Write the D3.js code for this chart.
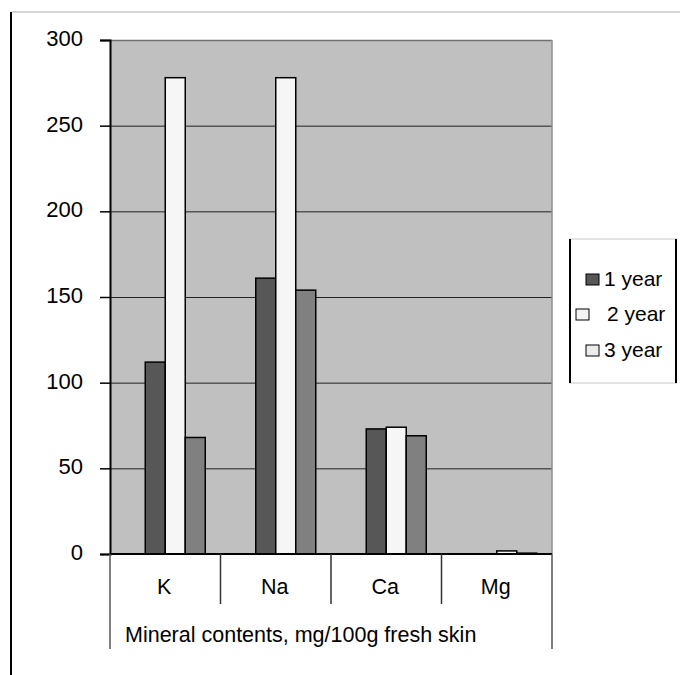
<!DOCTYPE html>
<html>
<head>
<meta charset="utf-8">
<script src="https://cdn.jsdelivr.net/npm/d3@7"></script>
<style>
  body { margin: 0; background: #fff; }
  text { font-family: "Liberation Sans", Arial, sans-serif; fill: #000; }
</style>
</head>
<body>
<script>
// Data
const minerals = ["K", "Na", "Ca", "Mg"];
const seriesNames = ["1 year", "2 year", "3 year"];
const year1 = [112, 161, 73, 0];
const year2 = [278, 278, 74, 1.8];
const year3 = [68, 154, 69, 0.5];
const yTicks = [0, 50, 100, 150, 200, 250, 300];
const axisTitle = "Mineral contents, mg/100g fresh skin";

const seriesValues = [year1, year2, year3];
const barColors = ["#575757", "#f6f6f6", "#808080"];
const legendColors = ["#575757", "#f4f4f4", "#ececec"];

// Width and Height
const w = 680;
const h = 675;
const plot = { left: 110, right: 552, top: 40, bottom: 554 };

const svg = d3.select("body")
              .append("svg")
              .attr("width", w)
              .attr("height", h);

// outer frame
svg.append("line").attr("x1", 11).attr("x2", 680).attr("y1", 12).attr("y2", 12)
   .attr("stroke", "#c8c8c8").attr("stroke-width", 1.5);
svg.append("line").attr("x1", 11).attr("x2", 11).attr("y1", 12).attr("y2", 675)
   .attr("stroke", "#000").attr("stroke-width", 2);

// Scales
const x0 = d3.scaleBand()
             .domain(minerals)
             .range([plot.left, plot.right])
             .padding(0);

// 4 slots per category, first one empty (as in the original)
const slotW = 20;
const x1 = d3.scaleBand()
             .domain([0, 1, 2, 3])
             .range([(x0.bandwidth() - 4 * slotW) / 2, (x0.bandwidth() + 4 * slotW) / 2]);

const y = d3.scaleLinear()
            .domain([0, 300])
            .range([plot.bottom, plot.top]);

// plot background
svg.append("rect")
   .attr("x", plot.left).attr("y", plot.top)
   .attr("width", plot.right - plot.left).attr("height", plot.bottom - plot.top)
   .attr("fill", "#c0c0c0");

// gridlines
svg.append("g")
   .selectAll("line")
   .data(yTicks.filter(d => d > 0 && d < 300))
   .enter()
   .append("line")
   .attr("x1", plot.left).attr("x2", plot.right)
   .attr("y1", d => y(d) + 0.5).attr("y2", d => y(d) + 0.5)
   .attr("stroke", "#222");

// plot border top + right
svg.append("line").attr("x1", plot.left).attr("x2", plot.right)
   .attr("y1", plot.top + 0.5).attr("y2", plot.top + 0.5)
   .attr("stroke", "#707070").attr("stroke-width", 1.5);
svg.append("line").attr("x1", plot.right).attr("x2", plot.right)
   .attr("y1", plot.top).attr("y2", plot.bottom)
   .attr("stroke", "#909090").attr("stroke-width", 1.5);

// bars
const groups = svg.append("g")
   .selectAll("g")
   .data(minerals)
   .enter()
   .append("g")
   .attr("transform", d => "translate(" + x0(d) + ",0)");

groups.selectAll("rect")
   .data((d, i) => seriesValues.map((s, j) => ({ series: j, value: s[i] })))
   .enter()
   .append("rect")
   .filter(d => d.value > 0)
   .attr("x", d => x1(d.series + 1))
   .attr("width", x1.bandwidth())
   .attr("y", d => y(d.value))
   .attr("height", d => y(0) - y(d.value))
   .attr("fill", d => barColors[d.series])
   .attr("stroke", "#000")
   .attr("stroke-width", 1.5);

// y axis
const yAxis = d3.axisLeft(y)
                .tickValues(yTicks)
                .tickSize(10)
                .tickPadding(17);
const ya = svg.append("g")
   .attr("transform", "translate(" + plot.left + ",0)")
   .call(yAxis);
ya.select(".domain").attr("stroke", "#000").attr("stroke-width", 2);
ya.selectAll(".tick line").attr("stroke", "#000").attr("stroke-width", 1.5);
ya.selectAll("text")
  .style("font-size", "22px")
  .style("font-family", "'Liberation Sans', Arial, sans-serif")
  .attr("dy", "0.25em");

// zero line
svg.append("line").attr("x1", plot.left).attr("x2", plot.right)
   .attr("y1", plot.bottom).attr("y2", plot.bottom)
   .attr("stroke", "#000").attr("stroke-width", 2);

// category axis box
const catTickBottom = 604;
const catOuterBottom = 649;
svg.append("g")
   .selectAll("line")
   .data(minerals.slice(1))
   .enter()
   .append("line")
   .attr("x1", d => x0(d)).attr("x2", d => x0(d))
   .attr("y1", plot.bottom).attr("y2", catTickBottom)
   .attr("stroke", "#333").attr("stroke-width", 1.5);
[plot.left, plot.right].forEach(xx => {
  svg.append("line").attr("x1", xx).attr("x2", xx)
     .attr("y1", plot.bottom).attr("y2", catOuterBottom)
     .attr("stroke", "#555").attr("stroke-width", 1.5);
});

svg.append("g")
   .selectAll("text")
   .data(minerals)
   .enter()
   .append("text")
   .attr("x", d => x0(d) + x0.bandwidth() / 2 - 1)
   .attr("y", 594)
   .attr("text-anchor", "middle")
   .style("font-size", "21.5px")
   .text(d => d);

svg.append("text")
   .attr("x", 125)
   .attr("y", 642)
   .style("font-size", "21.5px")
   .text(axisTitle);

// legend
const lg = svg.append("g");
lg.append("line").attr("x1", 569).attr("x2", 677).attr("y1", 239).attr("y2", 239)
  .attr("stroke", "#c8c8c8");
lg.append("line").attr("x1", 569).attr("x2", 677).attr("y1", 383).attr("y2", 383)
  .attr("stroke", "#c8c8c8");
lg.append("line").attr("x1", 570).attr("x2", 570).attr("y1", 239).attr("y2", 383)
  .attr("stroke", "#000").attr("stroke-width", 2);
lg.append("line").attr("x1", 676).attr("x2", 676).attr("y1", 239).attr("y2", 383)
  .attr("stroke", "#000").attr("stroke-width", 2);

const legendY = [279, 314, 350];
const swatchX = [586, 576, 586];
const labelX = [604, 607, 604];
seriesNames.forEach((name, i) => {
  lg.append("rect")
    .attr("x", swatchX[i]).attr("y", legendY[i] - 5)
    .attr("width", 13).attr("height", 11)
    .attr("fill", legendColors[i])
    .attr("stroke", "#000").attr("stroke-width", 1);
  lg.append("text")
    .attr("x", labelX[i])
    .attr("y", legendY[i] + 7)
    .style("font-size", "21px")
    .text(name);
});
</script>
</body>
</html>
